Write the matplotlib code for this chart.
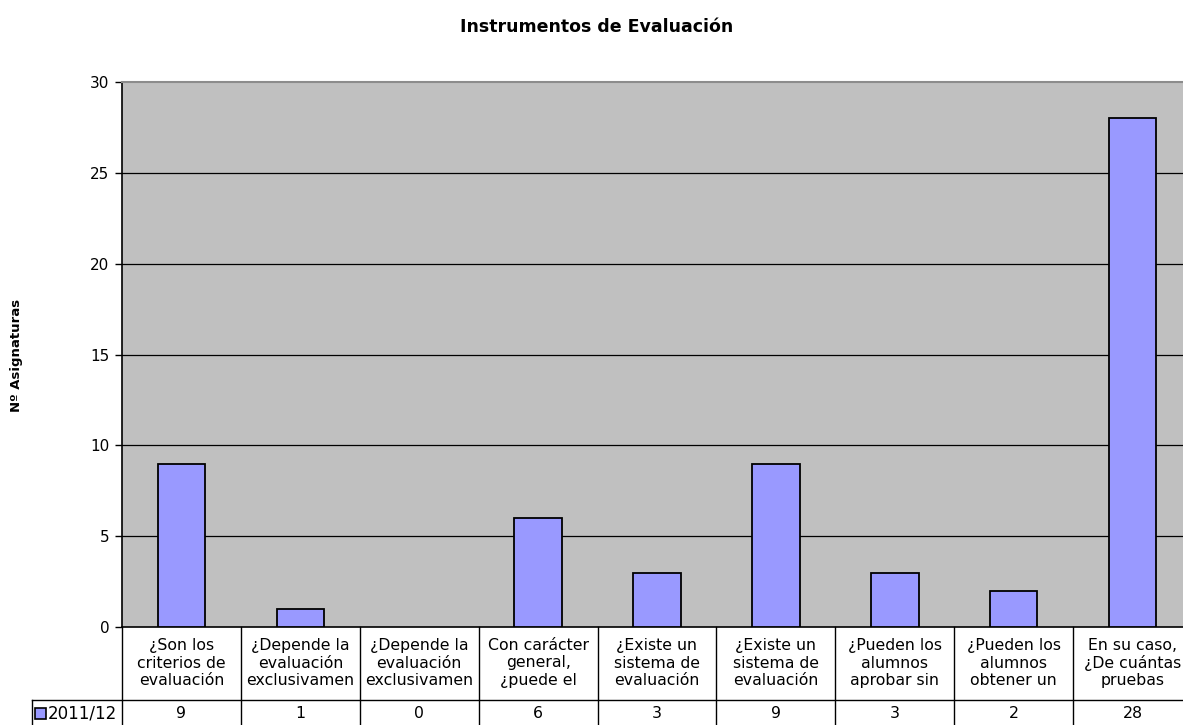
import matplotlib
matplotlib.use("Agg")
import matplotlib.pyplot as plt
from matplotlib.patches import Rectangle
from matplotlib.transforms import blended_transform_factory

categories = [
    "¿Son los\ncriterios de\nevaluación",
    "¿Depende la\nevaluación\nexclusivamen",
    "¿Depende la\nevaluación\nexclusivamen",
    "Con carácter\ngeneral,\n¿puede el",
    "¿Existe un\nsistema de\nevaluación",
    "¿Existe un\nsistema de\nevaluación",
    "¿Pueden los\nalumnos\naprobar sin",
    "¿Pueden los\nalumnos\nobtener un",
    "En su caso,\n¿De cuántas\npruebas",
]
values_2011 = [9, 1, 0, 6, 3, 9, 3, 2, 28]
series_name = "2011/12"
yticks = [0, 5, 10, 15, 20, 25, 30]

W, H = 1183, 725
fig = plt.figure(figsize=(W / 100, H / 100), dpi=100)
plt.rcParams['font.family'] = ['DejaVu Sans']

x0, x1 = 122, 1192
y0, y1 = 627, 82
ax = fig.add_axes([x0 / W, (H - y0) / H, (x1 - x0) / W, (y0 - y1) / H])
ax.set_facecolor("#c0c0c0")
n = len(categories)
xs = list(range(n))
lws = [1.3 if v > 0 else 0 for v in values_2011]
ax.bar(xs, values_2011, width=0.4, color="#9999ff", edgecolor="black", linewidth=lws, zorder=3)
ax.set_xlim(-0.5, n - 0.5)
ax.set_ylim(0, 30)
ax.set_yticks(yticks)
ax.tick_params(axis='y', labelsize=11, length=5, width=1, direction='out', pad=4)
ax.set_xticks([])
for t in yticks[1:-1]:
    ax.axhline(t, color="black", linewidth=0.9, zorder=1)
ax.spines['top'].set_color("#8c8c8c")
ax.spines['top'].set_linewidth(1.5)
ax.spines['right'].set_visible(False)
ax.spines['left'].set_linewidth(1.2)
ax.spines['bottom'].set_linewidth(1.2)

fig.text(597 / W, 1 - 27 / H, "Instrumentos de Evaluación", ha='center', va='center',
         fontsize=12.5, fontweight='bold')
fig.text(17 / W, 1 - 355 / H, "Nº Asignaturas", ha='center', va='center', rotation=90,
         fontsize=9.5, fontweight='bold')

def fy(p):
    return 1 - p / H

tr = blended_transform_factory(ax.transData, fig.transFigure)
row_sep = 700
for i in range(n + 1):
    xb = i - 0.5
    ax.plot([xb, xb], [fy(627), fy(730)], transform=tr, color="black", lw=1, clip_on=False)
fig.add_artist(plt.Line2D([32 / W, 1.0], [fy(row_sep), fy(row_sep)], color="black", lw=1))
fig.add_artist(plt.Line2D([32 / W, 32 / W], [fy(row_sep), fy(730)], color="black", lw=1))
for i, (c, v) in enumerate(zip(categories, values_2011)):
    ax.text(i, fy(663), c, transform=tr, ha='center', va='center', fontsize=11.3,
            linespacing=1.2, clip_on=False)
    ax.text(i, fy(713), str(v), transform=tr, ha='center', va='center', fontsize=11.3,
            clip_on=False)
fig.add_artist(Rectangle((35 / W, fy(719)), 11 / W, 11 / H, transform=fig.transFigure,
                         facecolor="#9999ff", edgecolor="black", lw=1.2))
fig.text(48 / W, fy(713), series_name, ha='left', va='center', fontsize=12)

fig.savefig("out.png", dpi=100)
